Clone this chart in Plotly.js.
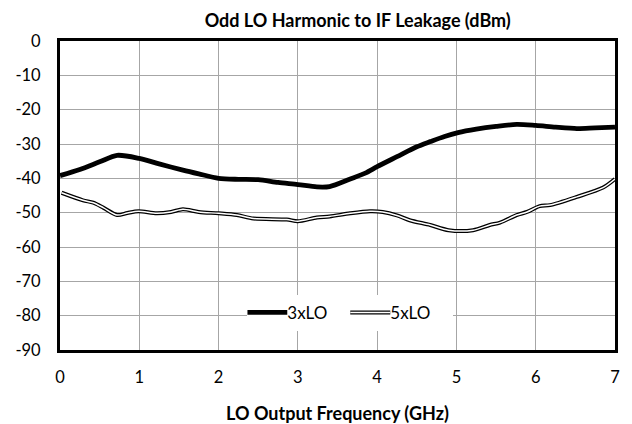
<!DOCTYPE html>
<html><head><meta charset="utf-8">
<script src="https://cdn.plot.ly/plotly-3.0.1.min.js"></script>
<style>html,body{margin:0;padding:0;background:#fff}#chart{width:632px;height:424px}</style>
</head><body><div id="chart"></div>
<script>
const freq3 = [0, 0.25, 0.5, 0.72, 1.0, 1.25, 1.55, 1.75, 2.0, 2.25, 2.5, 2.75, 3.0, 3.24, 3.4, 3.66, 3.85, 4.0, 4.25, 4.5, 4.67, 4.85, 5.02, 5.25, 5.5, 5.76, 6.0, 6.25, 6.52, 6.75, 7.0];
const lo3 = [-39.2, -37.4, -35.2, -33.3, -34.2, -35.8, -37.6, -38.7, -40.0, -40.3, -40.4, -41.2, -41.8, -42.5, -42.4, -40.2, -38.5, -36.6, -33.7, -30.8, -29.3, -27.8, -26.7, -25.7, -24.9, -24.3, -24.6, -25.1, -25.5, -25.3, -25.1];
const freq5 = [0.02, 0.29, 0.42, 0.55, 0.72, 0.85, 0.99, 1.22, 1.4, 1.55, 1.75, 2.0, 2.23, 2.44, 2.86, 3.0, 3.24, 3.4, 3.66, 3.91, 4.07, 4.25, 4.41, 4.67, 4.9, 5.21, 5.42, 5.55, 5.76, 5.89, 6.05, 6.18, 6.52, 6.85, 7.0];
const lo5 = [-44.2, -46.4, -47.1, -48.6, -50.7, -50.1, -49.6, -50.2, -49.8, -49.0, -49.8, -50.2, -50.7, -51.7, -52.0, -52.5, -51.4, -51.1, -50.2, -49.6, -49.8, -50.8, -52.2, -53.6, -55.1, -55.1, -53.6, -52.9, -50.7, -49.8, -48.1, -47.8, -45.4, -42.7, -40.2];
const yTickVals = [0, -10, -20, -30, -40, -50, -60, -70, -80, -90];
const yTickText = ['0', '-10', '-20', '-30', '-40', '-50', '-60', '-70', '-80', '-90'];
const xTickVals = [0, 1, 2, 3, 4, 5, 6, 7];
const xTickText = ['0', '1', '2', '3', '4', '5', '6', '7'];

const font = 'Lato, "Open Sans", sans-serif';
const traces = [
  {x: freq3, y: lo3, name: '3xLO', mode: 'lines', line: {color: '#000', width: 4.8, shape: 'spline', smoothing: 0.8}},
  {x: freq5, y: lo5, name: '5xLO', mode: 'lines', line: {color: '#000', width: 4, shape: 'spline', smoothing: 0.8}},
  {x: freq5, y: lo5, name: '5xLO inner', mode: 'lines', showlegend: false, line: {color: '#fff', width: 1.5, shape: 'spline', smoothing: 0.8}}
];
const layout = {
  width: 632, height: 424,
  margin: {l: 60, r: 17, t: 41, b: 74},
  paper_bgcolor: '#fff', plot_bgcolor: '#fff',
  font: {family: font, size: 16, color: '#000'},
  title: {text: '<b>Odd LO Harmonic to IF Leakage (dBm)</b>', x: 0.566, xanchor: 'center', y: 0.951, yanchor: 'middle', xref: 'container', font: {family: font, size: 18, color: '#000'}},
  xaxis: {range: [0, 7], tickvals: xTickVals, ticktext: xTickText, showgrid: true, gridcolor: '#a6a6a6', gridwidth: 1,
          showline: true, mirror: true, linecolor: '#000', linewidth: 3, zeroline: false, ticks: '', ticklabelstandoff: 10,
          tickfont: {size: 16.5}, title: {text: '<b>LO Output Frequency (GHz)</b>', font: {size: 18}, standoff: 22}},
  yaxis: {range: [-90, 0], tickvals: yTickVals, ticktext: yTickText, showgrid: true, gridcolor: '#a6a6a6', gridwidth: 1,
          showline: true, mirror: true, linecolor: '#000', linewidth: 3, zeroline: false, ticks: '', ticklabelstandoff: 13,
          tickfont: {size: 16.5}},
  showlegend: true,
  legend: {orientation: 'h', x: 0.523, xanchor: 'center', y: 0.12, yanchor: 'middle', bgcolor: '#fff',
           font: {size: 17}, itemwidth: 30, entrywidth: 58, traceorder: 'normal'}
};
Plotly.newPlot('chart', traces, layout, {staticPlot: true, displayModeBar: false}).then(function (gd) {
  const items = gd.querySelectorAll('.legend .traces');
  items.forEach(function (it, i) {
    const p = it.querySelector('path.js-line');
    if (!p) return;
    p.setAttribute('d', 'M0,0h40');
    if (i === 1) {
      const c = p.cloneNode(true);
      c.style.stroke = '#fff';
      c.style.strokeWidth = '1.5px';
      p.parentNode.appendChild(c);
    }
  });
});
</script></body></html>
